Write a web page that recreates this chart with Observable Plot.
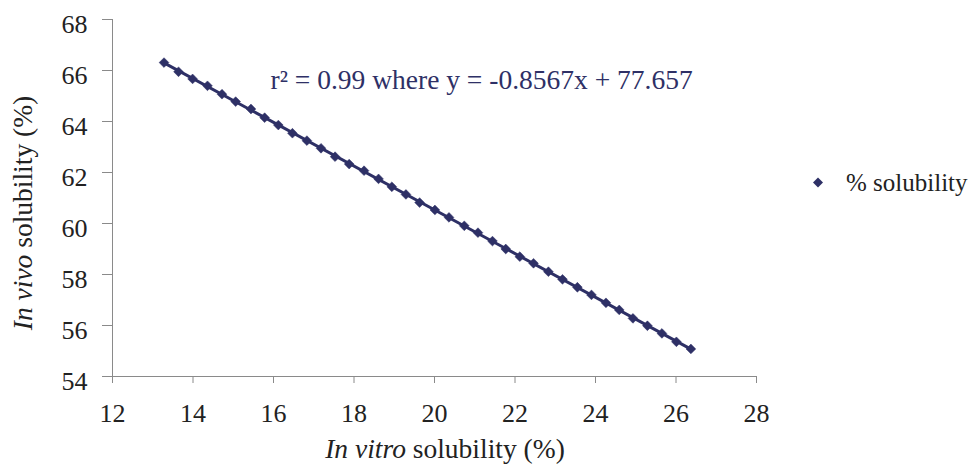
<!DOCTYPE html>
<html>
<head>
<meta charset="utf-8">
<script src="https://cdn.jsdelivr.net/npm/d3@7"></script>
<script src="https://cdn.jsdelivr.net/npm/@observablehq/plot@0.6"></script>
<style>
  html, body { margin: 0; padding: 0; background: #fff; }
  #wrap { position: relative; width: 971px; height: 465px; font-family: "Liberation Serif", "Times New Roman", serif; color: #222; }
  #chart { position: absolute; left: 0; top: 0; }
  .ytitle { position: absolute; left: 23px; top: 213px; transform: translate(-50%, -50%) rotate(-90deg); white-space: nowrap; font-size: 27.5px; line-height: 1; }
  .xtitle { position: absolute; left: 445px; top: 449px; transform: translate(-50%, -50%); white-space: nowrap; font-size: 27.5px; line-height: 1; }
  .legend { position: absolute; left: 811px; top: 182px; transform: translateY(-50%); display: flex; align-items: center; font-size: 25px; white-space: nowrap; line-height: 1; }
  .legend svg { margin-right: 21px; }
</style>
</head>
<body>
<div id="wrap">
  <div id="chart"></div>
  <div class="ytitle"><i>In vivo</i> solubility (%)</div>
  <div class="xtitle"><i>In vitro</i> solubility (%)</div>
  <div class="legend"><svg width="14" height="14" viewBox="-7 -7 14 14"><path d="M0,-5L5,0L0,5L-5,0Z" fill="#2e3066"></path></svg><span>% solubility</span></div>
</div>
<script>
const seriesName = "% solubility";
const inVitro = [13.28, 13.64, 13.99, 14.36, 14.72, 15.06, 15.44, 15.78, 16.12, 16.47,
  16.83, 17.18, 17.53, 17.88, 18.25, 18.61, 18.94, 19.29, 19.63, 20.01,
  20.36, 20.74, 21.08, 21.44, 21.77, 22.12, 22.46, 22.83, 23.18, 23.55,
  23.90, 24.26, 24.59, 24.93, 25.29, 25.65, 26.01, 26.37];
const inVivo = [66.31, 65.95, 65.67, 65.40, 65.07, 64.78, 64.49, 64.15, 63.86, 63.54,
  63.25, 62.95, 62.62, 62.33, 62.07, 61.75, 61.44, 61.14, 60.82, 60.53,
  60.24, 59.91, 59.64, 59.31, 59.00, 58.70, 58.44, 58.11, 57.81, 57.50,
  57.20, 56.89, 56.61, 56.28, 55.99, 55.69, 55.36, 55.08];
const xTicks = [12, 14, 16, 18, 20, 22, 24, 26, 28];
const yTicks = [54, 56, 58, 60, 62, 64, 66, 68];
const annotation = ["r\u00B2 = 0.99 where y = -0.8567x + 77.657"];

const data = inVitro.map((x, i) => ({x, y: inVivo[i]}));
const navy = "#2e3066";
const axisColor = "#8a8a8a";
const textColor = "#222";

const chart = Plot.plot({
  width: 971,
  height: 465,
  marginLeft: 112,
  marginTop: 19,
  marginRight: 215,
  marginBottom: 89,
  style: { fontFamily: "'Liberation Serif', 'Times New Roman', serif", fontSize: "26px", color: textColor, background: "#fff" },
  x: { domain: [12, 28] },
  y: { domain: [54, 68] },
  marks: [
    Plot.axisX({ ticks: xTicks, tickSize: 7, tickPadding: 20, stroke: axisColor, fill: textColor, label: null, fontSize: 26 }),
    Plot.axisY({ ticks: yTicks, tickSize: 10, stroke: axisColor, fill: "none", label: null }),
    Plot.axisY({ ticks: yTicks, tickSize: 10, tickPadding: 15, stroke: "none", fill: textColor, label: null, fontSize: 26, dy: 5 }),
    Plot.ruleY([54], { stroke: axisColor }),
    Plot.ruleX([12], { stroke: axisColor }),
    Plot.linearRegressionY(data, { x: "x", y: "y", ci: 0, stroke: navy, strokeWidth: 3 }),
    Plot.dot(data, { x: "x", y: "y", symbol: "diamond2", r: 4.4, fill: navy, stroke: navy, strokeWidth: 0.5 }),
    Plot.text(annotation, { text: d => d, frameAnchor: "top-left", lineAnchor: "middle", dx: 158, dy: 61, textAnchor: "start", fill: navy, fontSize: 27.5 })
  ]
});
document.getElementById("chart").appendChild(chart);
</script>
</body>
</html>
